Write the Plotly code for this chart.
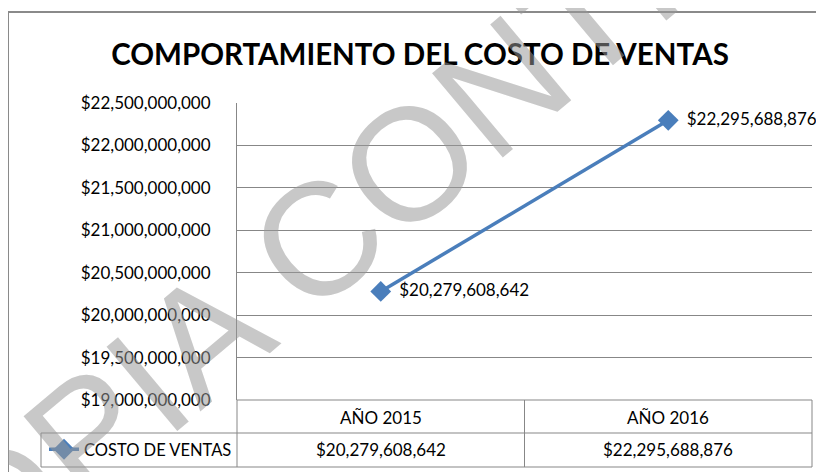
import plotly.graph_objects as go

# ---- data ----
categories = ["AÑO 2015", "AÑO 2016"]
series_name = "COSTO DE VENTAS"
values = [20279608642, 22295688876]
y_ticks = [19000000000, 19500000000, 20000000000, 20500000000,
           21000000000, 21500000000, 22000000000, 22500000000]
title_text = "COMPORTAMIENTO DEL COSTO DE VENTAS"
watermark_text = "COPIA CONTROLADA"

W, H = 824, 472
OFF = 8  # page body margin
# plot area in page pixels
L, R, T, B = 237, 812, 103, 400
PW, PH = R - L, B - T


def px(x):
    return (x - L) / PW


def py(y):
    return (B - y) / PH


def money(v):
    return "${:,.0f}".format(v)


FONT = "Lato"
GRID = "#878787"
BLUE = "#4A7EBB"
FS = 17

fig = go.Figure()
fig.add_trace(go.Scatter(
    x=categories, y=values, mode="lines+markers", name=series_name,
    line=dict(color=BLUE, width=3.5),
    marker=dict(symbol="diamond", size=16, color=BLUE),
    showlegend=True, hoverinfo="skip",
))
fig.add_trace(go.Scatter(
    x=categories, y=values, mode="markers+text",
    text=[money(v) for v in values], textposition="middle right",
    marker=dict(size=28, opacity=0), textfont=dict(size=FS, color="#000", family=FONT),
    showlegend=False, hoverinfo="skip", cliponaxis=False,
))

shapes = []
line_style = dict(color=GRID, width=1)
# outer chart border
shapes.append(dict(type="rect", xref="paper", yref="paper",
                   x0=px(8), y0=py(12), x1=px(840), y1=py(490),
                   line=dict(color="#8a8a8a", width=2), layer="below"))
# data table grid
shapes.append(dict(type="line", xref="paper", yref="paper", x0=0, x1=0, y0=py(400), y1=py(467), line=line_style))
shapes.append(dict(type="line", xref="paper", yref="paper", x0=1, x1=1, y0=py(400), y1=py(467), line=line_style))
shapes.append(dict(type="line", xref="x", yref="paper", x0=0.5, x1=0.5, y0=py(400), y1=py(467), line=line_style))
shapes.append(dict(type="line", xref="paper", yref="paper", x0=0, x1=1, y0=py(400), y1=py(400), line=line_style))
shapes.append(dict(type="line", xref="paper", yref="paper", x0=px(41), x1=1, y0=py(433), y1=py(433), line=line_style))
shapes.append(dict(type="line", xref="paper", yref="paper", x0=px(41), x1=1, y0=py(467), y1=py(467), line=line_style))
shapes.append(dict(type="line", xref="paper", yref="paper", x0=px(41), x1=px(41), y0=py(433), y1=py(467), line=line_style))

annotations = []
for c, v in zip(categories, values):
    annotations.append(dict(x=c, xref="x", y=py(417), yref="paper", text=c, showarrow=False,
                            font=dict(size=FS, family=FONT, color="#000"), xanchor="center", yanchor="middle"))
    annotations.append(dict(x=c, xref="x", y=py(450), yref="paper", text=money(v), showarrow=False,
                            font=dict(size=FS, family=FONT, color="#000"), xanchor="center", yanchor="middle"))

# watermark
annotations.append(dict(x=px(494), y=py(92), xref="paper", yref="paper", text=watermark_text,
                        showarrow=False, textangle=-40,
                        font=dict(size=160, family="Liberation Sans", color="rgba(151,151,151,0.53)"),
                        xanchor="center", yanchor="middle"))

fig.update_layout(
    width=W, height=H,
    margin=dict(l=L - OFF, r=W - (R - OFF), t=T - OFF, b=H - (B - OFF), autoexpand=False),
    paper_bgcolor="white", plot_bgcolor="white",
    title=dict(text="<b>" + title_text + "</b>", x=(420 - OFF) / W, xref="container", xanchor="center",
               y=1 - (55 - OFF) / H, yref="container", yanchor="middle",
               font=dict(size=29.5, family=FONT, color="#000")),
    xaxis=dict(type="category", range=[-0.5, 1.5], showticklabels=False, showgrid=False,
               zeroline=False, showline=False, fixedrange=True),
    yaxis=dict(range=[19000000000, 22500000000], tickvals=y_ticks, tickformat="$,.0f",
               showgrid=True, gridcolor=GRID, gridwidth=1, zeroline=False,
               showline=True, linecolor=GRID, linewidth=1,
               ticks="", ticklabelstandoff=22, automargin=False,
               tickfont=dict(size=FS, family=FONT, color="#000"), fixedrange=True),
    showlegend=True,
    legend=dict(x=px(44), y=py(432), xanchor="left", yanchor="top", xref="paper", yref="paper",
                bgcolor="rgba(0,0,0,0)", font=dict(size=16.5, family=FONT, color="#000"),
                itemwidth=30, borderwidth=0),
    shapes=shapes,
    annotations=annotations,
)

fig.write_html("out.html")
